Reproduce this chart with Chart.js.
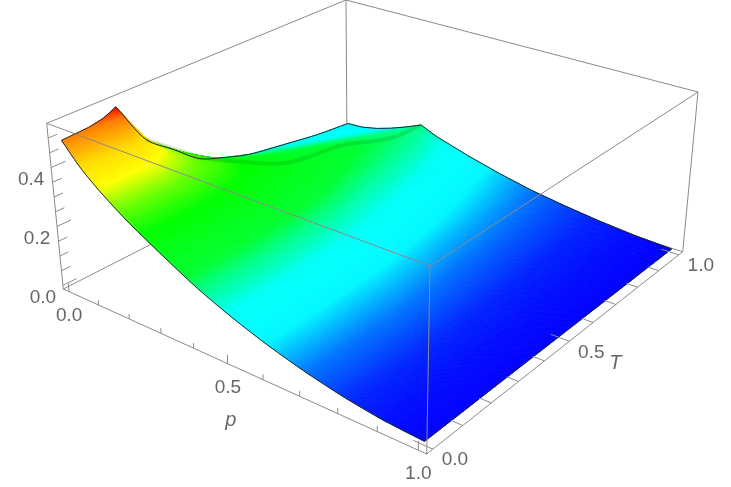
<!DOCTYPE html>
<html>
<head>
<meta charset="utf-8">
<style>
  html, body { margin: 0; background: #fff; }
  canvas { display: block; }
</style>
<script src="https://cdn.jsdelivr.net/npm/chart.js@4"></script>
</head>
<body>
<canvas id="surfaceChart" width="731" height="487"></canvas>
<script>
// Surface values
const pValues = [0, 0.05, 0.1, 0.15, 0.2, 0.25, 0.3, 0.4, 0.5, 0.6, 0.7, 0.8, 0.9, 1];
const tValues = [0, 0.08, 0.125, 0.165, 0.25, 0.34, 0.42, 0.5, 0.6, 0.73, 0.87, 1];
const zRow00 = [0.49, 0.425, 0.375, 0.333, 0.295, 0.262, 0.23, 0.17, 0.122, 0.082, 0.05, 0.025, 0.008, 0];
const zRow08 = [0.495, 0.43, 0.378, 0.335, 0.296, 0.262, 0.23, 0.17, 0.122, 0.082, 0.05, 0.025, 0.008, 0];
const zRow12 = [0.505, 0.432, 0.379, 0.335, 0.296, 0.262, 0.23, 0.17, 0.122, 0.082, 0.05, 0.025, 0.008, 0];
const zRow16 = [0.525, 0.44, 0.38, 0.336, 0.296, 0.262, 0.23, 0.17, 0.122, 0.082, 0.05, 0.025, 0.008, 0];
const zRow25 = [0.37, 0.36, 0.345, 0.32, 0.29, 0.258, 0.228, 0.168, 0.12, 0.08, 0.05, 0.025, 0.008, 0];
const zRow34 = [0.29, 0.295, 0.3, 0.295, 0.275, 0.25, 0.222, 0.165, 0.118, 0.08, 0.05, 0.025, 0.008, 0];
const zRow42 = [0.22, 0.24, 0.255, 0.265, 0.255, 0.235, 0.215, 0.16, 0.115, 0.078, 0.048, 0.024, 0.008, 0];
const zRow50 = [0.185, 0.2, 0.22, 0.235, 0.24, 0.225, 0.205, 0.155, 0.11, 0.075, 0.046, 0.023, 0.008, 0];
const zRow60 = [0.15, 0.17, 0.19, 0.205, 0.215, 0.205, 0.19, 0.145, 0.105, 0.07, 0.043, 0.022, 0.007, 0];
const zRow73 = [0.125, 0.14, 0.16, 0.18, 0.195, 0.19, 0.175, 0.135, 0.095, 0.065, 0.04, 0.02, 0.007, 0];
const zRow87 = [0.1, 0.115, 0.13, 0.15, 0.168, 0.175, 0.16, 0.122, 0.085, 0.058, 0.036, 0.019, 0.006, 0];
const zRow100 = [0.085, 0.088, 0.1, 0.118, 0.14, 0.165, 0.14, 0.105, 0.075, 0.05, 0.032, 0.017, 0.006, 0];
const zRows = [zRow00, zRow08, zRow12, zRow16, zRow25, zRow34, zRow42, zRow50, zRow60, zRow73, zRow87, zRow100];

// Colour scale of the surface: height to hue
const colorStops = [0, 0.02, 0.05, 0.085, 0.13, 0.165, 0.19, 0.27, 0.32, 0.37, 0.42, 0.49, 0.525];
const colorHues = [240, 232, 212, 182, 178, 152, 132, 120, 95, 60, 52, 30, 0];

// Ticks
const pTicks = [0, 0.1, 0.2, 0.3, 0.4, 0.5, 0.6, 0.7, 0.8, 0.9, 1];
const tTicks = [0, 0.1, 0.2, 0.3, 0.4, 0.5, 0.6, 0.7, 0.8, 0.9, 1];
const zTicks = [0, 0.05, 0.1, 0.15, 0.2, 0.25, 0.3, 0.35, 0.4, 0.45, 0.5];
const pMajor = [0, 0.5, 1];
const tMajor = [0, 0.5, 1];
const zMajor = [0, 0.2, 0.4];

// Where the box corners land on the page (bottom and top faces)
const bottomFace = [[63.3, 289], [426.7, 454], [682.7, 251.7], [347, 144.4]];
const topFace = [[46.7, 123.3], [430, 266], [698, 92], [346, 0]];
const zMin = -0.012, zMax = 0.55;

function homography(q) {
    const dx1 = q[1][0] - q[2][0], dx2 = q[3][0] - q[2][0], sx = q[0][0] - q[1][0] + q[2][0] - q[3][0];
    const dy1 = q[1][1] - q[2][1], dy2 = q[3][1] - q[2][1], sy = q[0][1] - q[1][1] + q[2][1] - q[3][1];
    const den = dx1 * dy2 - dx2 * dy1;
    const g = (sx * dy2 - dx2 * sy) / den, h = (dx1 * sy - sx * dy1) / den;
    const a = q[1][0] - q[0][0] + g * q[1][0], b = q[3][0] - q[0][0] + h * q[3][0];
    const d = q[1][1] - q[0][1] + g * q[1][1], e = q[3][1] - q[0][1] + h * q[3][1];
    return (u, v) => {
        const s = g * u + h * v + 1;
        return [(a * u + b * v + q[0][0]) / s, (d * u + e * v + q[0][1]) / s];
    };
}
const bottomMap = homography(bottomFace);
const topMap = homography(topFace);

// Box coordinates (0..1) to page coordinates
function boxPoint(u, v, w) {
    const b = bottomMap(u, v), t = topMap(u, v);
    return { x: b[0] + (t[0] - b[0]) * w, y: b[1] + (t[1] - b[1]) * w };
}
const uOf = p => (p + 0.02) / 1.04;
const wOf = z => (z - zMin) / (zMax - zMin);
const dataPoint = (p, T, z) => boxPoint(uOf(p), uOf(T), wOf(z));

// Line datasets for the box and the ticks
function boxLine(a, b, order) {
    return {
        label: 'box', data: [boxPoint(...a), boxPoint(...b)], showLine: true, order: order,
        borderColor: '#8a8a8a', borderWidth: 1, pointRadius: 0, fill: false
    };
}
function tickLine(a, b) {
    return {
        label: 'tick', data: [boxPoint(...a), boxPoint(...b)], showLine: true, order: 1,
        borderColor: '#8a8a8a', borderWidth: 1, pointRadius: 0, fill: false
    };
}
function edgeLine(points, tension) {
    return {
        label: 'edge', data: points, showLine: true, order: 2, tension: tension,
        borderColor: '#1a2a2a', borderWidth: 1, pointRadius: 0, fill: false
    };
}

const datasets = [];
// Back lines, hidden by the surface
datasets.push(boxLine([0, 0, 0], [0, 1, 0], 4));
datasets.push(boxLine([0, 1, 0], [1, 1, 0], 4));
datasets.push(boxLine([0, 1, 0], [0, 1, 1], 4));
datasets.push(boxLine([0, 0, 1], [0, 1, 1], 4));
datasets.push(boxLine([0, 1, 1], [1, 1, 1], 4));

// The surface nodes; the mesh itself is painted by the plugin below
const surfaceNodes = [];
zRows.forEach((row, j) => row.forEach((z, i) => surfaceNodes.push(dataPoint(pValues[i], tValues[j], z))));
datasets.push({ label: 'surface', data: surfaceNodes, order: 3, pointRadius: 0, showLine: false });

// Darker crease along the highest point of each row, behind the peak
const peakRow = 3;
const creaseNodes = [];
zRows.forEach((row, j) => {
    if (j <= peakRow) return;
    const i = row.indexOf(Math.max(...row));
    creaseNodes.push(dataPoint(pValues[i], tValues[j], row[i]));
});
datasets.push({
    label: 'crease', data: creaseNodes, showLine: true, order: 2, tension: 0.4,
    borderColor: 'rgba(0,70,20,0.14)', borderWidth: 4, pointRadius: 0, fill: false
});

// Outline of the surface
const leftEdge = tValues.map((T, j) => dataPoint(0, T, zRows[j][0]));
datasets.push(edgeLine(pValues.map((p, i) => dataPoint(p, 0, zRow00[i])), 0.3));
datasets.push(edgeLine(pValues.map((p, i) => dataPoint(p, 1, zRow100[i])), 0));
datasets.push(edgeLine(leftEdge.slice(0, peakRow + 1), 0.2));
datasets.push(edgeLine(leftEdge.slice(peakRow), 0.3));
datasets.push(edgeLine(tValues.map((T, j) => dataPoint(1, T, zRows[j][pValues.length - 1])), 0));

// Front lines, drawn over the surface
datasets.push(boxLine([0, 0, 0], [0, 0, 1], 1));
datasets.push(boxLine([1, 1, 0], [1, 1, 1], 1));
datasets.push(boxLine([0, 0, 0], [1, 0, 0], 1));
datasets.push(boxLine([1, 0, 0], [1, 1, 0], 1));
datasets.push(boxLine([1, 0, 0], [1, 0, 1], 1));
datasets.push(boxLine([0, 0, 1], [1, 0, 1], 1));
datasets.push(boxLine([1, 0, 1], [1, 1, 1], 1));

pTicks.forEach(p => {
    const len = pMajor.includes(p) ? 0.05 : 0.03;
    datasets.push(tickLine([uOf(p), 0, 0], [uOf(p), 0, len]));
});
tTicks.forEach(T => {
    const len = tMajor.includes(T) ? 0.045 : 0.028;
    datasets.push(tickLine([1, uOf(T), 0], [1 - len, uOf(T), 0]));
});
zTicks.forEach(z => {
    const len = zMajor.includes(z) ? 0.04 : 0.025;
    datasets.push(tickLine([0, 0, wOf(z)], [0, len, wOf(z)]));
});

function hueOf(z) {
    let k = 0;
    while (k < colorStops.length - 2 && z > colorStops[k + 1]) k++;
    const f = Math.min(1, Math.max(0, (z - colorStops[k]) / (colorStops[k + 1] - colorStops[k])));
    const h = colorHues[k] + (colorHues[k + 1] - colorHues[k]) * f;
    return 'hsl(' + h.toFixed(1) + ',100%,50%)';
}

// Paints the cells of the grid back to front, each split up for a smooth colour
const surfacePlugin = {
    id: 'surfacePlugin',
    beforeDatasetDraw(chart, args) {
        if (chart.data.datasets[args.index].label !== 'surface') return;
        const ctx = chart.ctx, xs = chart.scales.x, ys = chart.scales.y;
        const steps = 14;
        const px = pt => [xs.getPixelForValue(pt.x), ys.getPixelForValue(pt.y)];
        ctx.save();
        ctx.lineWidth = 0.8;
        for (let j = tValues.length - 2; j >= 0; j--) {
            for (let i = 0; i < pValues.length - 1; i++) {
                const z00 = zRows[j][i], z10 = zRows[j][i + 1], z01 = zRows[j + 1][i], z11 = zRows[j + 1][i + 1];
                const at = (a, b) => {
                    const z = (z00 * (1 - a) + z10 * a) * (1 - b) + (z01 * (1 - a) + z11 * a) * b;
                    const p = pValues[i] + (pValues[i + 1] - pValues[i]) * a;
                    const T = tValues[j] + (tValues[j + 1] - tValues[j]) * b;
                    return { z: z, pos: px(dataPoint(p, T, z)) };
                };
                for (let b = steps - 1; b >= 0; b--) {
                    for (let a = 0; a < steps; a++) {
                        const c1 = at(a / steps, b / steps), c2 = at((a + 1) / steps, b / steps);
                        const c3 = at((a + 1) / steps, (b + 1) / steps), c4 = at(a / steps, (b + 1) / steps);
                        const col = hueOf((c1.z + c2.z + c3.z + c4.z) / 4);
                        ctx.fillStyle = col;
                        ctx.strokeStyle = col;
                        ctx.beginPath();
                        ctx.moveTo(c1.pos[0], c1.pos[1]);
                        ctx.lineTo(c2.pos[0], c2.pos[1]);
                        ctx.lineTo(c3.pos[0], c3.pos[1]);
                        ctx.lineTo(c4.pos[0], c4.pos[1]);
                        ctx.closePath();
                        ctx.fill();
                        ctx.stroke();
                    }
                }
            }
        }
        ctx.restore();
    },
    afterDraw(chart) {
        const ctx = chart.ctx, xs = chart.scales.x, ys = chart.scales.y;
        const put = (text, pt, dx, dy, font) => {
            ctx.font = font;
            ctx.fillText(text, xs.getPixelForValue(pt.x) + dx, ys.getPixelForValue(pt.y) + dy);
        };
        const num = '19px "Liberation Sans"', ital = 'italic 20px "Liberation Sans"';
        ctx.save();
        ctx.fillStyle = '#666';
        ctx.textAlign = 'center';
        ctx.textBaseline = 'middle';
        zMajor.forEach(z => put(z.toFixed(1), boxPoint(0, 0, wOf(z)), -20, 12, num));
        pMajor.forEach(p => put(p.toFixed(1), boxPoint(uOf(p), 0, 0), 0, 24, num));
        tMajor.forEach(T => put(T.toFixed(1), boxPoint(1, uOf(T), 0), 22, 11, num));
        put('p', boxPoint(uOf(0.5), 0, 0), 3, 57, ital);
        put('T', boxPoint(1, uOf(0.5), 0), 46, 22, ital);
        ctx.restore();
    }
};

new Chart(document.getElementById('surfaceChart').getContext('2d'), {
    type: 'scatter',
    data: { datasets: datasets },
    plugins: [surfacePlugin],
    options: {
        responsive: false,
        animation: false,
        layout: { padding: 0 },
        plugins: { legend: { display: false }, tooltip: { enabled: false } },
        scales: {
            x: { type: 'linear', display: false, min: 0, max: 731 },
            y: { type: 'linear', display: false, min: 0, max: 487, reverse: true }
        }
    }
});
</script>
</body>
</html>
